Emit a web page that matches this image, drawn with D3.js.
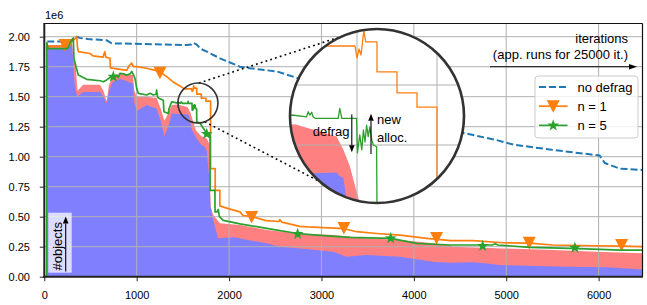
<!DOCTYPE html>
<html>
<head>
<meta charset="utf-8">
<script src="https://cdn.jsdelivr.net/npm/d3@7"></script>
<style>
  body { margin: 0; background: #fff; }
  svg text { font-family: "Liberation Sans", Arial, Helvetica, sans-serif; fill: #000; }
</style>
</head>
<body>
<svg id="chart" width="647" height="305"></svg>
<script>
// ticks
const xTicks = [0, 1000, 2000, 3000, 4000, 5000, 6000];
const yTicks = [0, 0.25, 0.5, 0.75, 1.0, 1.25, 1.5, 1.75, 2.0];
const insetXTicks = [1400, 1600, 1800];
const insetYTicks = [1.3, 1.4, 1.5, 1.6];
const legendNames = ["no defrag", "n = 1", "n = 5"];

// series: [iteration, #objects / 1e6]
const noDefrag = [[32,1.96],[240,1.96],[290,1.97],[330,1.99],[351,2.0],[380,1.99],[470,1.98],[675,1.97],[729,1.945],
  [1545,1.93],[1590,1.935],[1609,1.95],[1650,1.935],[1690,1.90],[1760,1.875],[1901,1.82],[2010,1.785],[2118,1.75],
  [2227,1.737],[2518,1.71],[2692,1.667],[3200,1.55],[3800,1.38],[4300,1.25],[4553,1.195],[4890,1.14],[5080,1.10],
  [5230,1.085],[5470,1.06],[5900,1.02],[6010,1.01],[6068,0.947],[6231,0.90],[6475,0.89]];

const nOne = [[30,0],[32,1.92],[270,1.92],[300,1.96],[340,1.99],[351,2.0],[358,1.92],[368,1.875],[495,1.86],[527,1.84],
  [635,1.83],[655,1.875],[665,1.83],[711,1.82],[716,1.74],[892,1.72],[920,1.76],[946,1.78],[965,1.75],[1000,1.75],
  [1108,1.737],[1200,1.72],[1252,1.71],[1300,1.68],[1325,1.667],[1400,1.62],[1468,1.59],[1515,1.565],[1595,1.565],
  [1600,1.545],[1605,1.56],[1610,1.55],[1617,1.59],[1622,1.572],[1650,1.572],[1650,1.522],[1700,1.522],[1700,1.487],
  [1750,1.487],[1750,1.463],[1800,1.463],[1800,0.90],[1850,0.90],[1850,0.72],[1900,0.72],[1900,0.59],[2000,0.565],
  [2118,0.54],[2150,0.51],[2250,0.50],[2400,0.467],[2540,0.46],[2550,0.475],[2570,0.455],[2767,0.42],[2850,0.415],
  [3250,0.40],[3380,0.375],[3600,0.36],[3850,0.347],[4140,0.32],[4400,0.30],[4640,0.30],[4970,0.283],[5250,0.28],
  [5500,0.264],[5980,0.258],[6250,0.255],[6475,0.25]];

const nFive = [[26,0],[28,1.95],[40,1.90],[242,1.90],[260,1.91],[278,1.95],[300,1.97],[314,1.99],[321,1.82],[343,1.75],
  [368,1.68],[459,1.645],[603,1.633],[639,1.625],[675,1.64],[711,1.66],[747,1.667],[784,1.68],[800,1.66],[819,1.695],
  [860,1.69],[892,1.68],[930,1.69],[946,1.71],[960,1.69],[982,1.653],[1000,1.57],[1017,1.528],[1108,1.514],[1144,1.528],
  [1180,1.514],[1210,1.52],[1216,1.556],[1225,1.50],[1234,1.49],[1288,1.47],[1295,1.375],[1342,1.36],[1350,1.40],
  [1379,1.458],[1433,1.448],[1437,1.450],[1474,1.447],[1478,1.4555],[1482,1.45],[1487,1.4545],[1490,1.447],
  [1495,1.4445],[1553,1.4445],[1557,1.461],[1562,1.4445],[1599,1.4445],[1601,1.387],[1607,1.417],[1612,1.392],
  [1616,1.425],[1620,1.405],[1624,1.433],[1628,1.414],[1632,1.43],[1637,1.408],[1641,1.40],[1649,1.397],[1650,1.29],
  [1685,1.28],[1721,1.237],[1758,1.195],[1794,1.18],[1795,0.72],[1847,0.72],[1848,0.54],[1870,0.54],[1883,0.56],
  [1895,0.50],[1937,0.47],[2118,0.44],[2407,0.403],[2742,0.36],[2948,0.347],[3308,0.328],[3749,0.32],[4030,0.278],
  [4391,0.264],[4850,0.264],[4880,0.275],[4910,0.264],[5257,0.245],[5689,0.236],[6014,0.228],[6231,0.222],[6475,0.222]];

// marker positions
const nOneMarks = [[224,1.93],[1252,1.70],[2244,0.497],[3243,0.406],[4246,0.322],[5249,0.283],[6249,0.264]];
const nFiveMarks = [[747,1.667],[1758,1.19],[2742,0.356],[3749,0.32],[4745,0.256],[5743,0.242]];

// stacked areas (top edges)
const liveObjects = [[18,0],[20,1.90],[257,1.90],[275,1.93],[300,1.94],[312,1.80],[330,1.60],[355,1.50],[420,1.54],
  [603,1.54],[640,1.50],[675,1.445],[700,1.55],[740,1.62],[819,1.65],[960,1.61],[975,1.45],[1000,1.38],[1108,1.43],
  [1216,1.40],[1260,1.30],[1300,1.17],[1340,1.25],[1380,1.36],[1491,1.353],[1549,1.354],[1553,1.35],[1566,1.345],
  [1573,1.314],[1600,1.22],[1650,1.15],[1700,1.10],[1740,1.08],[1760,1.04],[1785,0.83],[1800,0.58],[1820,0.50],
  [1880,0.32],[2050,0.328],[2407,0.278],[2550,0.25],[2770,0.236],[3130,0.208],[3270,0.167],[3490,0.18],[3850,0.167],
  [4210,0.125],[4400,0.117],[4640,0.12],[4790,0.111],[4930,0.097],[5640,0.083],[6100,0.078],[6475,0.061]];

const allocatedObjects = [[18,0],[20,1.93],[257,1.93],[300,1.95],[312,1.85],[340,1.75],[360,1.55],[420,1.60],
  [603,1.60],[640,1.55],[675,1.46],[700,1.60],[740,1.66],[819,1.69],[960,1.68],[975,1.55],[1000,1.50],[1108,1.50],
  [1216,1.49],[1260,1.40],[1300,1.30],[1340,1.36],[1380,1.43],[1445,1.4345],[1549,1.414],[1566,1.392],[1582,1.365],
  [1595,1.332],[1607,1.303],[1640,1.22],[1700,1.17],[1760,1.15],[1790,1.10],[1800,0.583],[1830,0.514],[1900,0.445],
  [2118,0.43],[2407,0.39],[2767,0.36],[3128,0.347],[3490,0.32],[3850,0.306],[4210,0.278],[4391,0.264],[4426,0.25],
  [4968,0.236],[5509,0.222],[5978,0.208],[6475,0.195]];

// zoom spot (data coords) for the circle inset
const zoomSpot = [1663, 1.4475];

const colBlue = "#1f77b4", colOrange = "#ff7f0e", colGreen = "#2ca02c";
const fillLive = "#8080ff", fillAlloc = "#ff8080";

const svg = d3.select("#chart");

const x = d3.scaleLinear().domain([0, 6475]).range([44.3, 642.5]);
const y = d3.scaleLinear().domain([0, 2.11]).range([276.7, 23.5]);

// inset scales
const ix = d3.scaleLinear().domain([1433, 1867]).range([290.2, 463.8]);
const iy = d3.scaleLinear().domain([1.303, 1.593]).range([203.2, 29.2]);
const bigC = { x: 377, y: 116, r: 87 };

svg.append("defs").append("clipPath").attr("id", "plotClip")
  .append("rect").attr("x", 44.3).attr("y", 23.5).attr("width", 598.2).attr("height", 253.2);
svg.select("defs").append("clipPath").attr("id", "insetClip")
  .append("circle").attr("cx", bigC.x).attr("cy", bigC.y).attr("r", bigC.r - 1);

function triDown(cx, cy) {
  return `M${cx - 6.5},${cy - 6}L${cx + 6.5},${cy - 6}L${cx},${cy + 6.5}Z`;
}
function star(cx, cy, r) {
  const p = [];
  for (let i = 0; i < 10; i++) {
    const a = -Math.PI / 2 + i * Math.PI / 5;
    const rr = i % 2 ? r * 0.4 : r;
    p.push([cx + rr * Math.cos(a), cy + rr * Math.sin(a)]);
  }
  return "M" + p.join("L") + "Z";
}
function arrow(g, x1, y1, x2, y2, head) {
  const a = Math.atan2(y2 - y1, x2 - x1);
  const hl = head || 7, hw = 2.8;
  const bx = x2 - hl * Math.cos(a), by = y2 - hl * Math.sin(a);
  g.append("line").attr("x1", x1).attr("y1", y1).attr("x2", bx).attr("y2", by)
    .attr("stroke", "#000").attr("stroke-width", 1.1);
  g.append("path")
    .attr("d", `M${x2},${y2}L${bx - hw * Math.sin(a)},${by + hw * Math.cos(a)}L${bx + hw * Math.sin(a)},${by - hw * Math.cos(a)}Z`)
    .attr("fill", "#000");
}

// draw the data in a given pair of scales
function drawData(g, sx, sy, lw, withMarks) {
  const area = d3.area().x(d => sx(d[0])).y0(sy(0)).y1(d => sy(d[1]));
  g.append("path").datum(allocatedObjects).attr("d", area).attr("fill", fillAlloc);
  g.append("path").datum(liveObjects).attr("d", area).attr("fill", fillLive);
}
function drawLines(g, sx, sy, lw, withMarks) {
  const line = d3.line().x(d => sx(d[0])).y(d => sy(d[1]));
  g.append("path").datum(noDefrag).attr("d", line).attr("fill", "none")
    .attr("stroke", colBlue).attr("stroke-width", lw + 0.3).attr("stroke-dasharray", "7,3");
  g.append("path").datum(nOne).attr("d", line).attr("fill", "none")
    .attr("stroke", colOrange).attr("stroke-width", lw).attr("stroke-linejoin", "round");
  if (withMarks) {
    g.selectAll(null).data(nOneMarks).join("path")
      .attr("d", d => triDown(sx(d[0]), sy(d[1]))).attr("fill", colOrange);
  }
  g.append("path").datum(nFive).attr("d", line).attr("fill", "none")
    .attr("stroke", colGreen).attr("stroke-width", lw).attr("stroke-linejoin", "round");
  if (withMarks) {
    g.selectAll(null).data(nFiveMarks).join("path")
      .attr("d", d => star(sx(d[0]), sy(d[1]), 6.2)).attr("fill", colGreen);
  }
}
function drawGrid(g, sx, sy, xs, ys, x0, x1, y0, y1) {
  g.selectAll(null).data(xs).join("line")
    .attr("x1", d => sx(d)).attr("x2", d => sx(d)).attr("y1", y0).attr("y2", y1)
    .attr("stroke", "#b0b0b0").attr("stroke-width", 1);
  g.selectAll(null).data(ys).join("line")
    .attr("y1", d => sy(d)).attr("y2", d => sy(d)).attr("x1", x0).attr("x2", x1)
    .attr("stroke", "#b0b0b0").attr("stroke-width", 1);
}

// main plot
const main = svg.append("g").attr("clip-path", "url(#plotClip)");
drawData(main, x, y);
drawGrid(main, x, y, xTicks.slice(1), yTicks.slice(1), 44.3, 642.5, 23.5, 276.7);
drawLines(main, x, y, 1.7, true);

// axes
const xAxis = svg.append("g").attr("transform", "translate(0,276.7)")
  .call(d3.axisBottom(x).tickValues(xTicks).tickFormat(d3.format("d")).tickSize(4.5).tickPadding(10));
const yAxis = svg.append("g").attr("transform", "translate(44.3,0)")
  .call(d3.axisLeft(y).tickValues(yTicks).tickFormat(d3.format(".2f")).tickSize(4.5).tickPadding(9.8));
[xAxis, yAxis].forEach(a => {
  a.select(".domain").remove();
  a.selectAll("text").attr("font-size", 11).attr("font-family", '"Liberation Sans", Arial, sans-serif');
  a.selectAll(".tick line").attr("stroke", "#222").attr("stroke-width", 1);
});
svg.append("text").attr("x", 45).attr("y", 19).attr("font-size", 11).text("1e6");

// spines
svg.append("line").attr("x1", 44.3).attr("x2", 642.5).attr("y1", 23.5).attr("y2", 23.5).attr("stroke", "#111").attr("stroke-width", 1.2);
svg.append("line").attr("x1", 642.5).attr("x2", 642.5).attr("y1", 23.5).attr("y2", 276.7).attr("stroke", "#111").attr("stroke-width", 1.2);
svg.append("line").attr("x1", 44.3).attr("x2", 44.3).attr("y1", 23).attr("y2", 277.7).attr("stroke", "#222").attr("stroke-width", 2);
svg.append("line").attr("x1", 43.3).attr("x2", 643).attr("y1", 276.7).attr("y2", 276.7).attr("stroke", "#222").attr("stroke-width", 2);

// small circle + connectors
const sc = { x: x(zoomSpot[0]), y: y(zoomSpot[1]), r: 20 };
const deg = Math.PI / 180;
[[-87, -103], [70, 131]].forEach(([a1, a2]) => {
  svg.append("line")
    .attr("x1", sc.x + sc.r * Math.cos(a1 * deg)).attr("y1", sc.y + sc.r * Math.sin(a1 * deg))
    .attr("x2", bigC.x + bigC.r * Math.cos(a2 * deg)).attr("y2", bigC.y + bigC.r * Math.sin(a2 * deg))
    .attr("stroke", "#000").attr("stroke-width", 1.6).attr("stroke-dasharray", "1.8,3.2");
});
svg.append("circle").attr("cx", sc.x).attr("cy", sc.y).attr("r", sc.r)
  .attr("fill", "none").attr("stroke", "#333").attr("stroke-width", 1.6);

// inset
const inset = svg.append("g").attr("clip-path", "url(#insetClip)");
inset.append("rect").attr("x", bigC.x - bigC.r).attr("y", bigC.y - bigC.r)
  .attr("width", 2 * bigC.r).attr("height", 2 * bigC.r).attr("fill", "#fff");
drawData(inset, ix, iy);
drawGrid(inset, ix, iy, insetXTicks, insetYTicks, bigC.x - bigC.r, bigC.x + bigC.r, bigC.y - bigC.r, bigC.y + bigC.r);
drawLines(inset, ix, iy, 1.3, false);

// inset annotations
const ann = svg.append("g");
arrow(ann, ix(1587), iy(1.451), ix(1587), iy(1.388));
arrow(ann, ix(1635), iy(1.385), ix(1635), iy(1.452));
ann.append("text").attr("x", ix(1589) - 3).attr("y", iy(1.415)).attr("text-anchor", "end")
  .attr("font-size", 13).text("defrag");
ann.append("text").attr("x", ix(1650)).attr("y", iy(1.435)).attr("font-size", 13).text("new");
ann.append("text").attr("x", ix(1650)).attr("y", iy(1.4055)).attr("font-size", 13).text("alloc.");

svg.append("circle").attr("cx", bigC.x).attr("cy", bigC.y).attr("r", bigC.r)
  .attr("fill", "none").attr("stroke", "#333").attr("stroke-width", 2.6);

// iterations note
svg.append("text").attr("x", 628).attr("y", 43).attr("text-anchor", "end").attr("font-size", 13).text("iterations");
svg.append("text").attr("x", 628).attr("y", 59.3).attr("text-anchor", "end").attr("font-size", 13)
  .text("(app. runs for 25000 it.)");
arrow(svg, 490, 66.7, 637, 66.7, 8);

// #objects label
svg.append("rect").attr("x", 48.3).attr("y", 212.7).attr("width", 23.4).attr("height", 60)
  .attr("fill", "#fff").attr("fill-opacity", 0.72);
svg.append("text").attr("transform", "translate(62,270.5) rotate(-90)").attr("font-size", 13).text("#objects");
arrow(svg, 65.7, 271.5, 65.7, 216.5, 7);

// legend
const lg = svg.append("g");
lg.append("rect").attr("x", 535).attr("y", 76).attr("width", 103).attr("height", 62).attr("rx", 3)
  .attr("fill", "#fff").attr("fill-opacity", 0.8).attr("stroke", "#cccccc").attr("stroke-width", 1);
legendNames.forEach((name, i) => {
  const ly = 87 + i * 19.2;
  const l = lg.append("line").attr("x1", 539).attr("x2", 567.5).attr("y1", ly).attr("y2", ly)
    .attr("stroke", [colBlue, colOrange, colGreen][i]).attr("stroke-width", i === 0 ? 2 : 1.7);
  if (i === 0) l.attr("stroke-dasharray", "7,3");
  if (i === 1) lg.append("path").attr("d", triDown(553.2, ly)).attr("fill", colOrange);
  if (i === 2) lg.append("path").attr("d", star(553.2, ly, 6.2)).attr("fill", colGreen);
  lg.append("text").attr("x", 577.5).attr("y", ly + 4.6).attr("font-size", 13).text(name);
});
</script>
</body>
</html>
